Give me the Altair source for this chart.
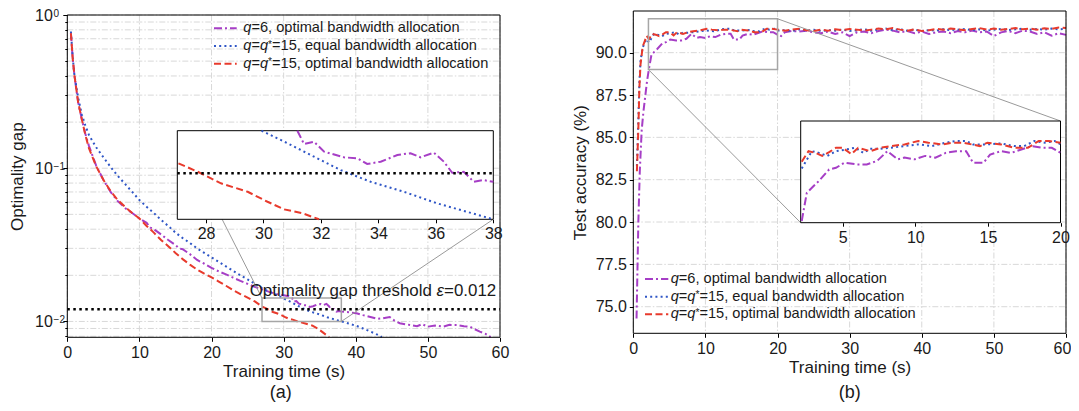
import altair as alt
import pandas as pd

# ---------------- (a) optimality gap vs training time ----------------
gap_time_q6 = [0.5, 0.75, 1.0, 1.5, 2.0, 2.5, 3.0, 4.0, 5.0, 6.0, 7.0, 8.0, 9.0, 10.0,
               11.0, 11.5, 12.0, 13.0, 14.0, 15.0, 15.5, 16.0, 17.0, 18.0, 19.0, 20.0,
               21.0, 22.0, 23.0, 24.0, 25.0, 26.0, 27.0, 28.0, 29.0, 30.0,
               30.7, 31.18, 31.41, 31.76, 32.11, 32.80, 33.27, 33.61, 34.08, 34.66,
               35.12, 35.47, 35.93, 36.28, 36.57, 36.97, 37.32, 37.66, 38.0,
               39.0, 40.1, 41.0, 41.9, 43.0, 43.8, 44.7, 45.4, 46.1, 47.5,
               48.5, 49.2, 50.0, 51.0, 52.1, 53.0, 54.0, 55.0, 55.8, 56.5,
               57.2, 58.0, 58.7]
gap_q6 = [0.76, 0.52, 0.40, 0.27, 0.21, 0.168, 0.14, 0.104, 0.084, 0.070, 0.061, 0.055, 0.051, 0.047,
          0.044, 0.041, 0.040, 0.037, 0.034, 0.0315, 0.0300, 0.0296, 0.0275, 0.0252, 0.0238, 0.0224,
          0.0212, 0.0203, 0.0193, 0.0184, 0.0176, 0.0168, 0.0162, 0.0156, 0.0151, 0.0148,
          0.0146, 0.0142, 0.01347, 0.01359, 0.01307, 0.01278, 0.01273, 0.01245, 0.01256, 0.01290,
          0.01299, 0.01278, 0.01302, 0.01256, 0.01202, 0.01207, 0.01160, 0.01168, 0.01160,
          0.0115, 0.0113, 0.0110, 0.01074, 0.0104, 0.0105, 0.0107, 0.0101, 0.00973, 0.00949,
          0.0093, 0.0096, 0.00925, 0.0094, 0.00925, 0.0095, 0.00949, 0.0093, 0.00925, 0.0089,
          0.00858, 0.0083, 0.0079]

gap_time_eq = [0.5, 0.75, 1.0, 1.5, 2.0, 2.5, 3.0, 4.0, 5.0, 6.0, 7.0, 8.0, 9.0, 10.0,
               11.0, 12.0, 13.0, 14.0, 15.0, 16.0, 17.0, 18.0, 19.0, 20.0, 21.0, 22.0, 23.0,
               24.0, 25.0, 26.0, 27.0, 28.0, 29.0,
               29.93, 30.84, 31.76, 32.69, 33.73, 34.89, 36.05, 36.97, 38.0,
               39.0, 40.1, 41.0, 42.0, 43.0, 43.6]
gap_eq = [0.78, 0.53, 0.40, 0.29, 0.225, 0.19, 0.165, 0.137, 0.118, 0.102, 0.089, 0.079, 0.070, 0.062,
          0.056, 0.051, 0.046, 0.042, 0.038, 0.035, 0.0325, 0.030, 0.028, 0.0262, 0.0245, 0.0229, 0.0214,
          0.0200, 0.0188, 0.0176, 0.0165, 0.0156, 0.0149,
          0.0142, 0.01351, 0.01281, 0.01215, 0.01160, 0.01115, 0.01065, 0.01034, 0.0100,
          0.0097, 0.00935, 0.0090, 0.0086, 0.0082, 0.0079]

gap_time_opt = [0.5, 0.75, 1.0, 1.5, 2.0, 2.5, 3.0, 4.0, 5.0, 6.0, 7.0, 8.0, 9.0, 10.0,
                11.0, 12.0, 13.0, 14.0, 15.0, 16.0, 17.0, 18.0, 19.0, 20.0, 21.0, 22.0, 23.0,
                24.0, 25.0, 26.0,
                27.04, 27.71, 28.52, 29.45, 30.14, 30.72, 31.36, 31.93,
                33.0, 34.0, 35.0, 36.0, 36.3]
gap_opt = [0.76, 0.52, 0.40, 0.27, 0.21, 0.165, 0.135, 0.103, 0.084, 0.071, 0.062, 0.056, 0.051, 0.047,
           0.042, 0.038, 0.034, 0.031, 0.028, 0.0255, 0.0235, 0.0218, 0.0205, 0.0194, 0.0182, 0.0171, 0.0160,
           0.0151, 0.0143, 0.0135,
           0.01248, 0.01207, 0.01153, 0.01115, 0.01072, 0.01040, 0.01024, 0.0100,
           0.0097, 0.0094, 0.0088, 0.0081, 0.0079]

gap_threshold = 0.012

# ---------------- (b) test accuracy vs training time ----------------
acc_time_q6 = [0.45, 0.7, 0.9, 1.16, 1.4, 1.62, 1.9,
               2.17, 2.52, 2.87, 3.35, 4.06, 4.53, 5.12, 5.94, 6.65, 7.36,
               8.07, 8.78, 9.25, 9.96, 10.67, 11.38, 12.09, 12.8, 13.5, 13.97,
               14.7, 15.15, 15.9, 16.6, 17.3, 18.0, 18.7, 19.4, 20.0, 20.5,
               21, 22, 23, 24, 25, 26, 27, 28, 29, 30,
               31, 32, 33, 34, 35, 36, 37, 38, 39, 40,
               41, 42, 43, 44, 45, 46, 47, 48, 49, 50,
               51, 52, 53, 54, 55, 56, 57, 58, 59, 60]
acc_q6 = [74.3, 80.0, 83.0, 85.4, 86.5, 87.3, 88.3,
          89.05, 89.88, 90.03, 90.23, 90.57, 90.62, 90.77, 90.72, 90.72, 90.82,
          91.11, 90.87, 90.92, 90.87, 90.97, 90.92, 91.06, 91.11, 91.11, 90.77,
          90.77, 91.01, 91.11, 91.06, 91.16, 91.26, 91.21, 91.21, 91.06, 90.98,
          91.20, 91.28, 91.25, 91.30, 91.20, 91.15, 91.25, 91.10, 91.20, 90.98,
          91.20, 91.25, 91.15, 91.28, 91.36, 91.30, 91.20, 91.28, 91.15, 91.25,
          91.10, 91.20, 91.25, 91.15, 91.28, 91.20, 91.30, 91.20, 91.25, 90.98,
          91.20, 91.28, 91.15, 91.30, 91.25, 91.10, 91.20, 91.00, 91.15, 91.05]

acc_time_eq = [0.5, 0.7, 0.85, 1.0, 1.3, 1.6, 1.85,
               2.17, 2.87, 3.35, 3.94, 4.53, 5.24, 5.83, 6.42, 6.89, 7.6,
               8.31, 9.25, 10.2, 11.14, 12.09, 12.8, 13.5, 13.97, 14.96, 15.9,
               16.8, 17.5, 18.2, 18.9, 19.6, 20.0,
               21, 22, 23, 24, 25, 26, 27, 28, 29, 30,
               31, 32, 33, 34, 35, 36, 37, 38, 39, 40,
               41, 42, 43, 44, 45, 46, 47, 48, 49, 50,
               51, 52, 53, 54, 55, 56, 57, 58, 59, 60]
acc_eq = [83.3, 86.0, 88.3, 89.5, 90.3, 90.6, 90.8,
          90.6, 91.11, 91.06, 90.97, 91.11, 91.16, 91.21, 91.06, 91.18, 91.18,
          91.21, 91.26, 91.31, 91.26, 91.36, 91.41, 91.41, 91.31, 91.31, 91.34,
          91.26, 91.26, 91.41, 91.36, 91.41, 91.31,
          91.33, 91.28, 91.38, 91.30, 91.35, 91.28, 91.33, 91.30, 91.36, 91.28,
          91.33, 91.38, 91.30, 91.36, 91.42, 91.33, 91.38, 91.30, 91.36, 91.28,
          91.33, 91.30, 91.38, 91.33, 91.36, 91.40, 91.33, 91.38, 91.30, 91.36,
          91.40, 91.33, 91.38, 91.42, 91.36, 91.40, 91.36, 91.42, 91.38, 91.40]

acc_time_opt = [0.5, 0.7, 0.85, 1.0, 1.3, 1.6, 1.85,
                2.17, 2.64, 3.11, 3.58, 4.06, 4.53, 5.0, 5.59, 6.06, 6.89,
                7.6, 8.31, 9.25, 10.2, 10.9, 11.85, 12.6, 13.3, 14.45, 14.96,
                15.9, 16.8, 17.75, 18.5, 19.2, 20.0,
                21, 22, 23, 24, 25, 26, 27, 28, 29, 30,
                31, 32, 33, 34, 35, 36, 37, 38, 39, 40,
                41, 42, 43, 44, 45, 46, 47, 48, 49, 50,
                51, 52, 53, 54, 55, 56, 57, 58, 59, 60]
acc_opt = [83.0, 85.5, 88.0, 89.3, 90.35, 90.7, 91.0,
           90.8, 91.11, 91.06, 90.97, 91.08, 91.21, 91.21, 91.02, 91.21, 91.11,
           91.21, 91.26, 91.31, 91.41, 91.36, 91.31, 91.36, 91.36, 91.26, 91.36,
           91.31, 91.21, 91.21, 91.41, 91.41, 91.36,
           91.30, 91.36, 91.41, 91.33, 91.28, 91.36, 91.30, 91.38, 91.33, 91.40,
           91.36, 91.30, 91.36, 91.42, 91.38, 91.45, 91.36, 91.30, 91.38, 91.28,
           91.33, 91.40, 91.36, 91.42, 91.38, 91.33, 91.40, 91.45, 91.36, 91.42,
           91.35, 91.40, 91.45, 91.38, 91.42, 91.36, 91.44, 91.40, 91.48, 91.45]

# ticks / domains / labels
x_ticks = [0, 10, 20, 30, 40, 50, 60]
x_ticks_b_main = [0, 10, 20, 30, 40, 50]
x_ticks_b_last = [60]
x_domain = [0, 60]
gap_domain = [0.00788, 1.0]
gap_major = [0.01, 0.1, 1.0]
gap_major_exp = ["\u22122", "\u22121", "0"]
gap_minor = [0.008, 0.009, 0.02, 0.03, 0.04, 0.05, 0.06, 0.07, 0.08, 0.09,
             0.2, 0.3, 0.4, 0.5, 0.6, 0.7, 0.8, 0.9]
acc_domain = [73.43, 92.46]
acc_ticks = [75.0, 77.5, 80.0, 82.5, 85.0, 87.5, 90.0]
zoom_a_x = [27, 38]
zoom_a_y = [0.01, 0.0142]
zoom_a_ticks = [28, 30, 32, 34, 36, 38]
zoom_b_x = [2.1, 20]
zoom_b_y = [89, 92]
zoom_b_ticks = [5, 10, 15, 20]

x_title = "Training time (s)"
gap_title = "Optimality gap"
acc_title = "Test accuracy (%)"
caption_a = "(a)"
caption_b = "(b)"
threshold_runs = [("Optimality gap threshold ", False), ("\u03b5", True), ("=0.012", False)]
legend_runs = [
    [("q", True), ("=6, optimal bandwidth allocation", False)],
    [("q", True), ("=", False), ("q", True), ("*", "sup"), ("=15, equal bandwidth allocation", False)],
    [("q", True), ("=", False), ("q", True), ("*", "sup"), ("=15, optimal bandwidth allocation", False)],
]

# ---------------- style / layout ----------------
FONT = "Liberation Sans"
TXT = "#1a1a1a"
COL = {"q6": "#A63EC6", "eq": "#2F56C6", "opt": "#E83A2C"}
DASH = {"q6": [8, 3, 2, 3], "eq": [2, 3.2], "opt": [7, 3.5]}
LW = 2.0
GRID = "#d8d8d8"
GRID_DASH = [6, 2, 1.5, 2]
TICK_FS = 16
TITLE_FS = 17
LEG_FS = 14.6

W, H = 1063, 395
M = 8  # page margin


def p(v):
    return v - M


A_X0, A_X1, A_YT, A_YB = p(67.3), p(500.0), p(15.0), p(337.3)
B_X0, B_X1, B_YT, B_YB = p(633.3), p(1066.0), p(11.0), p(333.3)
AI_X0, AI_X1, AI_YT, AI_YB = p(177.3), p(493.3), p(130.7), p(219.3)
BI_X0, BI_X1, BI_YT, BI_YB = p(800.7), p(1060.5), p(121.0), p(222.7)

AX = alt.Scale(domain=x_domain, range=[A_X0, A_X1], nice=False, zero=False)
AY = alt.Scale(type="log", domain=gap_domain, range=[A_YB, A_YT], nice=False)
AIX = alt.Scale(domain=zoom_a_x, range=[AI_X0, AI_X1], nice=False, zero=False)
AIY = alt.Scale(type="log", domain=zoom_a_y, range=[AI_YB, AI_YT], nice=False)
BX = alt.Scale(domain=x_domain, range=[B_X0, B_X1], nice=False, zero=False)
BY = alt.Scale(domain=acc_domain, range=[B_YB, B_YT], nice=False, zero=False)
BIX = alt.Scale(domain=zoom_b_x, range=[BI_X0, BI_X1], nice=False, zero=False)
BIY = alt.Scale(domain=zoom_b_y, range=[BI_YB, BI_YT], nice=False, zero=False)

ARIAL = {" ": 278, "!": 278, "(": 333, ")": 333, "*": 389, ",": 278, "-": 333, ".": 278, "=": 584,
         "\u03b5": 440, "%": 889}
for ch in "0123456789":
    ARIAL[ch] = 556
ARIAL.update({"a": 556, "b": 556, "c": 500, "d": 556, "e": 556, "f": 278, "g": 556, "h": 556, "i": 222,
              "j": 222, "k": 500, "l": 222, "m": 833, "n": 556, "o": 556, "p": 556, "q": 556, "r": 333,
              "s": 500, "t": 278, "u": 556, "v": 500, "w": 722, "x": 500, "y": 500, "z": 500, "O": 778})


def tw(s, size):
    return sum(ARIAL.get(c, 556) for c in s) * size / 1000.0


DUMMY = pd.DataFrame({"k": [0]})


def ax(**kw):
    base = dict(labelFont=FONT, labelFontSize=TICK_FS, labelColor=TXT, tickColor="black", tickSize=4,
                tickWidth=1, domain=False, grid=False, labelPadding=3, titleFont=FONT,
                titleFontSize=TITLE_FS, titleFontWeight="normal", titleColor=TXT, zindex=1,
                labelFlush=False, labelOverlap=False)
    base.update(kw)
    return alt.Axis(**base)


def df_of(ts, vs):
    return pd.DataFrame({"t": ts, "v": vs})


def curve(df, key, xs, ys, xaxis=None, filt=None):
    ch = alt.Chart(df)
    if filt is not None:
        (xr, yr) = filt
        ch = ch.transform_filter(alt.FieldRangePredicate(field="t", range=xr)).transform_filter(
            alt.FieldRangePredicate(field="v", range=yr))
    return ch.mark_line(color=COL[key], strokeDash=DASH[key], strokeWidth=LW).encode(
        x=alt.X("t:Q", scale=xs, axis=xaxis), y=alt.Y("v:Q", scale=ys, axis=None))


def hgrid(vals, ys, x0, x1, axis=None):
    return alt.Chart(pd.DataFrame({"v": vals})).mark_rule(
        color=GRID, strokeDash=GRID_DASH, strokeWidth=1).encode(
        y=alt.Y("v:Q", scale=ys, axis=axis), x=alt.value(x0), x2=alt.value(x1))


def vgrid(vals, xs, y0, y1, axis=None):
    return alt.Chart(pd.DataFrame({"t": vals})).mark_rule(
        color=GRID, strokeDash=GRID_DASH, strokeWidth=1).encode(
        x=alt.X("t:Q", scale=xs, axis=axis), y=alt.value(y0), y2=alt.value(y1))


def frame(x0, x1, y0, y1, fill=None, color="black", width=1.0):
    kw = dict(stroke=color, strokeWidth=width)
    if fill:
        kw.update(fill=fill, fillOpacity=1)
    else:
        kw.update(fillOpacity=0)
    return alt.Chart(DUMMY).mark_rect(**kw).encode(
        x=alt.value(x0), x2=alt.value(x1), y=alt.value(y0), y2=alt.value(y1))


def text_runs(x0, y, runs, size, baseline="middle"):
    out = []
    x = x0
    for s, style in runs:
        fs = size
        dy = 0
        italic = style is True
        if style == "sup":
            fs = size * 0.7
            dy = -size * 0.1
        out.append(alt.Chart(DUMMY).mark_text(
            text=s, align="left", baseline=baseline, font=FONT, fontSize=fs,
            fontStyle="italic" if italic else "normal", color=TXT, dy=dy).encode(
            x=alt.value(x), y=alt.value(y)))
        x += tw(s, fs)
    return out


def legend(sym_x0, sym_x1, text_x, rows_y, size):
    out = []
    for key, ry, runs in zip(["q6", "eq", "opt"], rows_y, legend_runs):
        out.append(alt.Chart(DUMMY).mark_rule(color=COL[key], strokeDash=DASH[key], strokeWidth=LW).encode(
            x=alt.value(sym_x0), x2=alt.value(sym_x1), y=alt.value(ry)))
        out += text_runs(text_x, ry, runs, size)
    return out


def zoom_box(xr, yr, xs, ys):
    d = pd.DataFrame({"x0": [xr[0]], "x1": [xr[1]], "y0": [yr[0]], "y1": [yr[1]]})
    return alt.Chart(d).mark_rect(fillOpacity=0, stroke="#a6a6a6", strokeWidth=1.5).encode(
        x=alt.X("x0:Q", scale=xs, axis=None), x2="x1:Q",
        y=alt.Y("y0:Q", scale=ys, axis=None), y2="y1:Q")


def connector(xv, yv, xs, ys, px2, py2):
    d = pd.DataFrame({"t": [xv], "v": [yv]})
    return alt.Chart(d).mark_rule(color="#9a9a9a", strokeWidth=1).encode(
        x=alt.X("t:Q", scale=xs, axis=None), y=alt.Y("v:Q", scale=ys, axis=None),
        x2=alt.value(px2), y2=alt.value(py2))


d_gq6 = df_of(gap_time_q6, gap_q6)
d_geq = df_of(gap_time_eq, gap_eq)
d_gopt = df_of(gap_time_opt, gap_opt)
d_aq6 = df_of(acc_time_q6, acc_q6)
d_aeq = df_of(acc_time_eq, acc_eq)
d_aopt = df_of(acc_time_opt, acc_opt)

layers = []
# ----- panel (a) -----
layers.append(hgrid(gap_minor, AY, A_X0, A_X1,
                    axis=ax(values=gap_minor, labels=False, tickSize=2.5, orient="left", offset=-A_X0, title=None)))
layers.append(hgrid(gap_major, AY, A_X0, A_X1,
                    axis=ax(values=gap_major, labels=False, orient="left", offset=-A_X0, tickSize=4.5,
                            title=gap_title, titlePadding=36)))
# y tick labels 10^k (base + superscript exponent)
d_major = pd.DataFrame({"v": gap_major, "e": gap_major_exp})
EXP_X = p(52.8)
layers.append(alt.Chart(d_major).mark_text(text="10", align="right", baseline="middle", font=FONT,
                                           fontSize=TICK_FS, color=TXT, dy=1).encode(
    y=alt.Y("v:Q", scale=AY, axis=None), x=alt.value(EXP_X)))
layers.append(alt.Chart(d_major).mark_text(align="left", baseline="middle", font=FONT,
                                           fontSize=10, color=TXT, dy=-1.5).encode(
    y=alt.Y("v:Q", scale=AY, axis=None), x=alt.value(EXP_X + 0.8), text="e:N"))
layers.append(vgrid(x_ticks, AX, A_YT, A_YB,
                    axis=ax(values=x_ticks, orient="bottom", offset=A_YB - H, title=x_title, titlePadding=3,
                            format="d")))
layers.append(curve(d_gq6, "q6", AX, AY))
layers.append(curve(d_geq, "eq", AX, AY))
layers.append(curve(d_gopt, "opt", AX, AY))
thr = pd.DataFrame({"x0": [x_domain[0]], "x1": [x_domain[1]], "v": [gap_threshold]})
layers.append(alt.Chart(thr).mark_rule(color="black", strokeDash=[2.5, 3.5], strokeWidth=2.5).encode(
    x=alt.X("x0:Q", scale=AX, axis=None), x2="x1:Q", y=alt.Y("v:Q", scale=AY, axis=None)))
layers.append(zoom_box(zoom_a_x, zoom_a_y, AX, AY))
layers.append(connector(zoom_a_x[0], zoom_a_y[1], AX, AY, AI_X0, AI_YT))
layers.append(connector(zoom_a_x[1], zoom_a_y[0], AX, AY, AI_X1, AI_YB))
layers.append(frame(A_X0, A_X1, A_YT, A_YB))
layers.append(frame(AI_X0, AI_X1, AI_YT, AI_YB, fill="white"))
filt_a = ([zoom_a_x[0] - 0.01, zoom_a_x[1] + 0.01], [zoom_a_y[0] * 0.999, zoom_a_y[1] * 1.001])
layers.append(curve(d_gq6, "q6", AIX, AIY,
                    xaxis=ax(values=zoom_a_ticks, orient="bottom", offset=AI_YB - H, title=None, tickSize=3.5),
                    filt=filt_a))
layers.append(curve(d_geq, "eq", AIX, AIY, filt=filt_a))
layers.append(curve(d_gopt, "opt", AIX, AIY, filt=filt_a))
thr_i = pd.DataFrame({"x0": [zoom_a_x[0]], "x1": [zoom_a_x[1]], "v": [gap_threshold]})
layers.append(alt.Chart(thr_i).mark_rule(color="black", strokeDash=[2.5, 3.5], strokeWidth=2.5).encode(
    x=alt.X("x0:Q", scale=AIX, axis=None), x2="x1:Q", y=alt.Y("v:Q", scale=AIY, axis=None)))
layers += legend(p(214), p(236.7), p(243.3), [p(28.3), p(46.0), p(63.8)], LEG_FS)
layers += text_runs(p(249.7), p(295.5), threshold_runs, 16.9, baseline="alphabetic")
layers.append(alt.Chart(DUMMY).mark_text(text=caption_a, font=FONT, fontSize=18, color=TXT,
                                         align="center", baseline="middle").encode(
    x=alt.value((A_X0 + A_X1) / 2 - 3), y=alt.value(p(392.5))))

# ----- panel (b) -----
layers.append(hgrid(acc_ticks, BY, B_X0, B_X1,
                    axis=ax(values=acc_ticks, format=".1f", orient="left", offset=-B_X0, title=acc_title,
                            titlePadding=6)))
layers.append(vgrid(x_ticks_b_main, BX, B_YT, B_YB,
                    axis=ax(values=x_ticks_b_main, orient="bottom", offset=B_YB - H, title=x_title,
                            titlePadding=3, format="d")))
layers.append(vgrid(x_ticks_b_last, BX, B_YT, B_YB,
                    axis=ax(values=x_ticks_b_last, orient="bottom", offset=B_YB - H, title=None,
                            format="d", labelOffset=-4)))
layers.append(curve(d_aq6, "q6", BX, BY))
layers.append(curve(d_aeq, "eq", BX, BY))
layers.append(curve(d_aopt, "opt", BX, BY))
layers.append(zoom_box(zoom_b_x, zoom_b_y, BX, BY))
layers.append(connector(zoom_b_x[1], zoom_b_y[1], BX, BY, BI_X1, BI_YT))
layers.append(connector(zoom_b_x[0], zoom_b_y[0], BX, BY, BI_X0, BI_YB))
layers.append(frame(B_X0, B_X1, B_YT, B_YB))
layers.append(frame(BI_X0, BI_X1, BI_YT, BI_YB, fill="white"))
filt_b = ([zoom_b_x[0] - 0.01, zoom_b_x[1] + 0.01], [zoom_b_y[0] - 0.01, zoom_b_y[1] + 0.01])
layers.append(curve(d_aq6, "q6", BIX, BIY,
                    xaxis=ax(values=zoom_b_ticks, orient="bottom", offset=BI_YB - H, title=None, tickSize=3.5),
                    filt=filt_b))
layers.append(curve(d_aeq, "eq", BIX, BIY, filt=filt_b))
layers.append(curve(d_aopt, "opt", BIX, BIY, filt=filt_b))
layers += legend(p(645), p(668.3), p(670.7), [p(279.0), p(296.7), p(314.2)], LEG_FS)
layers.append(alt.Chart(DUMMY).mark_text(text=caption_b, font=FONT, fontSize=18, color=TXT,
                                         align="center", baseline="middle").encode(
    x=alt.value((B_X0 + B_X1) / 2), y=alt.value(p(392.5))))

chart = alt.layer(*layers).resolve_scale(x="independent", y="independent").properties(
    width=W, height=H, autosize=alt.AutoSizeParams(type="none"), padding=0, background="white"
).configure_view(strokeWidth=0)

chart.save("out.html", embed_options={"renderer": "svg", "actions": False})
